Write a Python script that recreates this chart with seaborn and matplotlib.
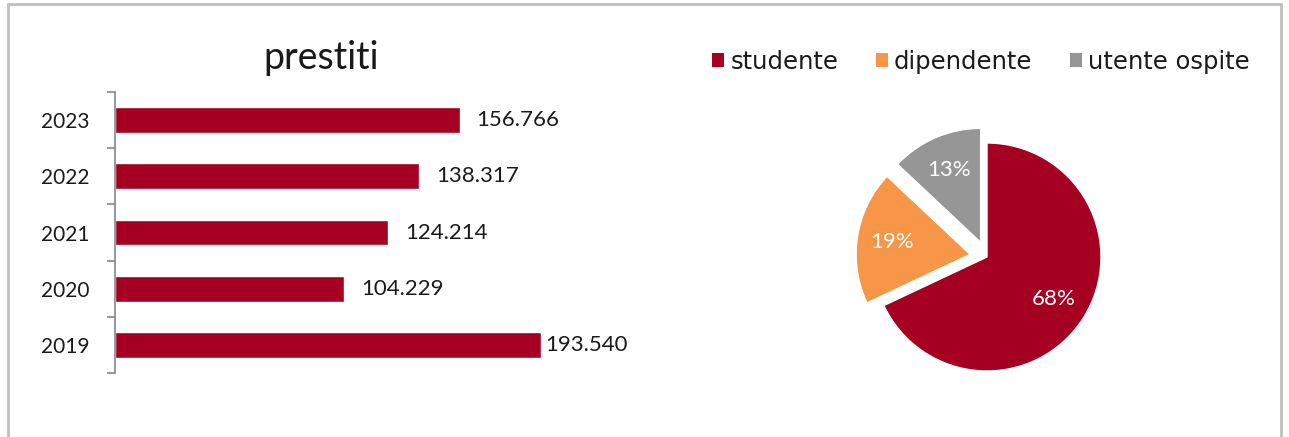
import matplotlib
matplotlib.use("Agg")
import matplotlib.pyplot as plt
from matplotlib.lines import Line2D
from matplotlib.patches import Patch
import seaborn as sns
import pandas as pd

# ---- data ----
years = ["2023", "2022", "2021", "2020", "2019"]
loans = [156766, 138317, 124214, 104229, 193540]
user_types = ["studente", "dipendente", "utente ospite"]
shares = [68, 19, 13]

BAR_RED = "#A50021"
PIE_COLORS = ["#A50021", "#F79646", "#969696"]

sns.set_theme(style="white")
plt.rcParams["font.family"] = ["Lato", "DejaVu Sans"]

W, H = 1289, 437
fig = plt.figure(figsize=(W / 100, H / 100), dpi=100)

def px_axes(x0, y0, x1, y1):
    return fig.add_axes([x0 / W, (H - y1) / H, (x1 - x0) / W, (y1 - y0) / H])

# ---- bar chart ----
ax = px_axes(115, 92, 665, 373)
df = pd.DataFrame({"anno": years, "prestiti": loans})
sns.barplot(data=df, x="prestiti", y="anno", order=years, orient="h",
            color=BAR_RED, width=0.46, saturation=1, ax=ax)
ax.set_xlim(0, 250000)
ax.set_ylim(4.5, -0.5)
ax.set_xlabel("")
ax.set_ylabel("")
ax.set_xticks([])
for s in ["top", "right", "bottom"]:
    ax.spines[s].set_visible(False)
ax.spines["left"].set_color("#868686")
ax.spines["left"].set_linewidth(1.2)
ax.set_yticks([i + 0.5 for i in range(-1, len(years))], minor=True)
ax.tick_params(axis="y", which="minor", length=6, width=1.2, color="#868686",
               direction="out", left=True)
ax.tick_params(axis="y", which="major", length=0, pad=18, labelsize=15,
               labelcolor="#1a1a1a")

vmax = max(loans)
fmt = [f"{v:,}".replace(",", ".") for v in loans]
cont = ax.containers[0]
ax.bar_label(cont, labels=[l if v != vmax else "" for l, v in zip(fmt, loans)],
             padding=12, fontsize=16, color="#1a1a1a")
ax.bar_label(cont, labels=[l if v == vmax else "" for l, v in zip(fmt, loans)],
             padding=3, fontsize=16, color="#1a1a1a")
fig.text(321 / W, 1 - 58 / H, "prestiti", ha="center", va="center",
         fontsize=27, color="#1a1a1a")

# ---- pie chart ----
cx, cy, r = 987, 257, 114
half = 1.25 * r
pax = px_axes(cx - half, cy - half, cx + half, cy + half)
wedges, texts, autotexts = pax.pie(
    shares, colors=PIE_COLORS, startangle=90, counterclock=False,
    explode=[0, 0.15, 0.14], autopct="%d%%", pctdistance=0.69,
    textprops=dict(color="white", fontsize=16))
pax.set_xlim(-1.25, 1.25)
pax.set_ylim(-1.25, 1.25)
pax.set_aspect("equal")

handles = [Patch(facecolor=c, edgecolor="none") for c in PIE_COLORS]
fig.legend(handles, user_types, loc="center", bbox_to_anchor=(981 / W, 1 - 62 / H),
           ncol=3, frameon=False, handlelength=0.5, handleheight=0.5,
           handletextpad=0.25, columnspacing=1.55,
           prop=dict(family="DejaVu Sans", size=17.5), labelcolor="#1a1a1a")

# ---- outer frame ----
fc = "#BFBFBF"
fig.add_artist(Line2D([8 / W, 8 / W], [0, 1 - 4 / H], color=fc, lw=2, transform=fig.transFigure))
fig.add_artist(Line2D([8 / W, 1281 / W], [1 - 4 / H, 1 - 4 / H], color=fc, lw=2, transform=fig.transFigure))
fig.add_artist(Line2D([1281 / W, 1281 / W], [0, 1 - 4 / H], color=fc, lw=2, transform=fig.transFigure))

fig.savefig("out.png", dpi=100, facecolor="white")
